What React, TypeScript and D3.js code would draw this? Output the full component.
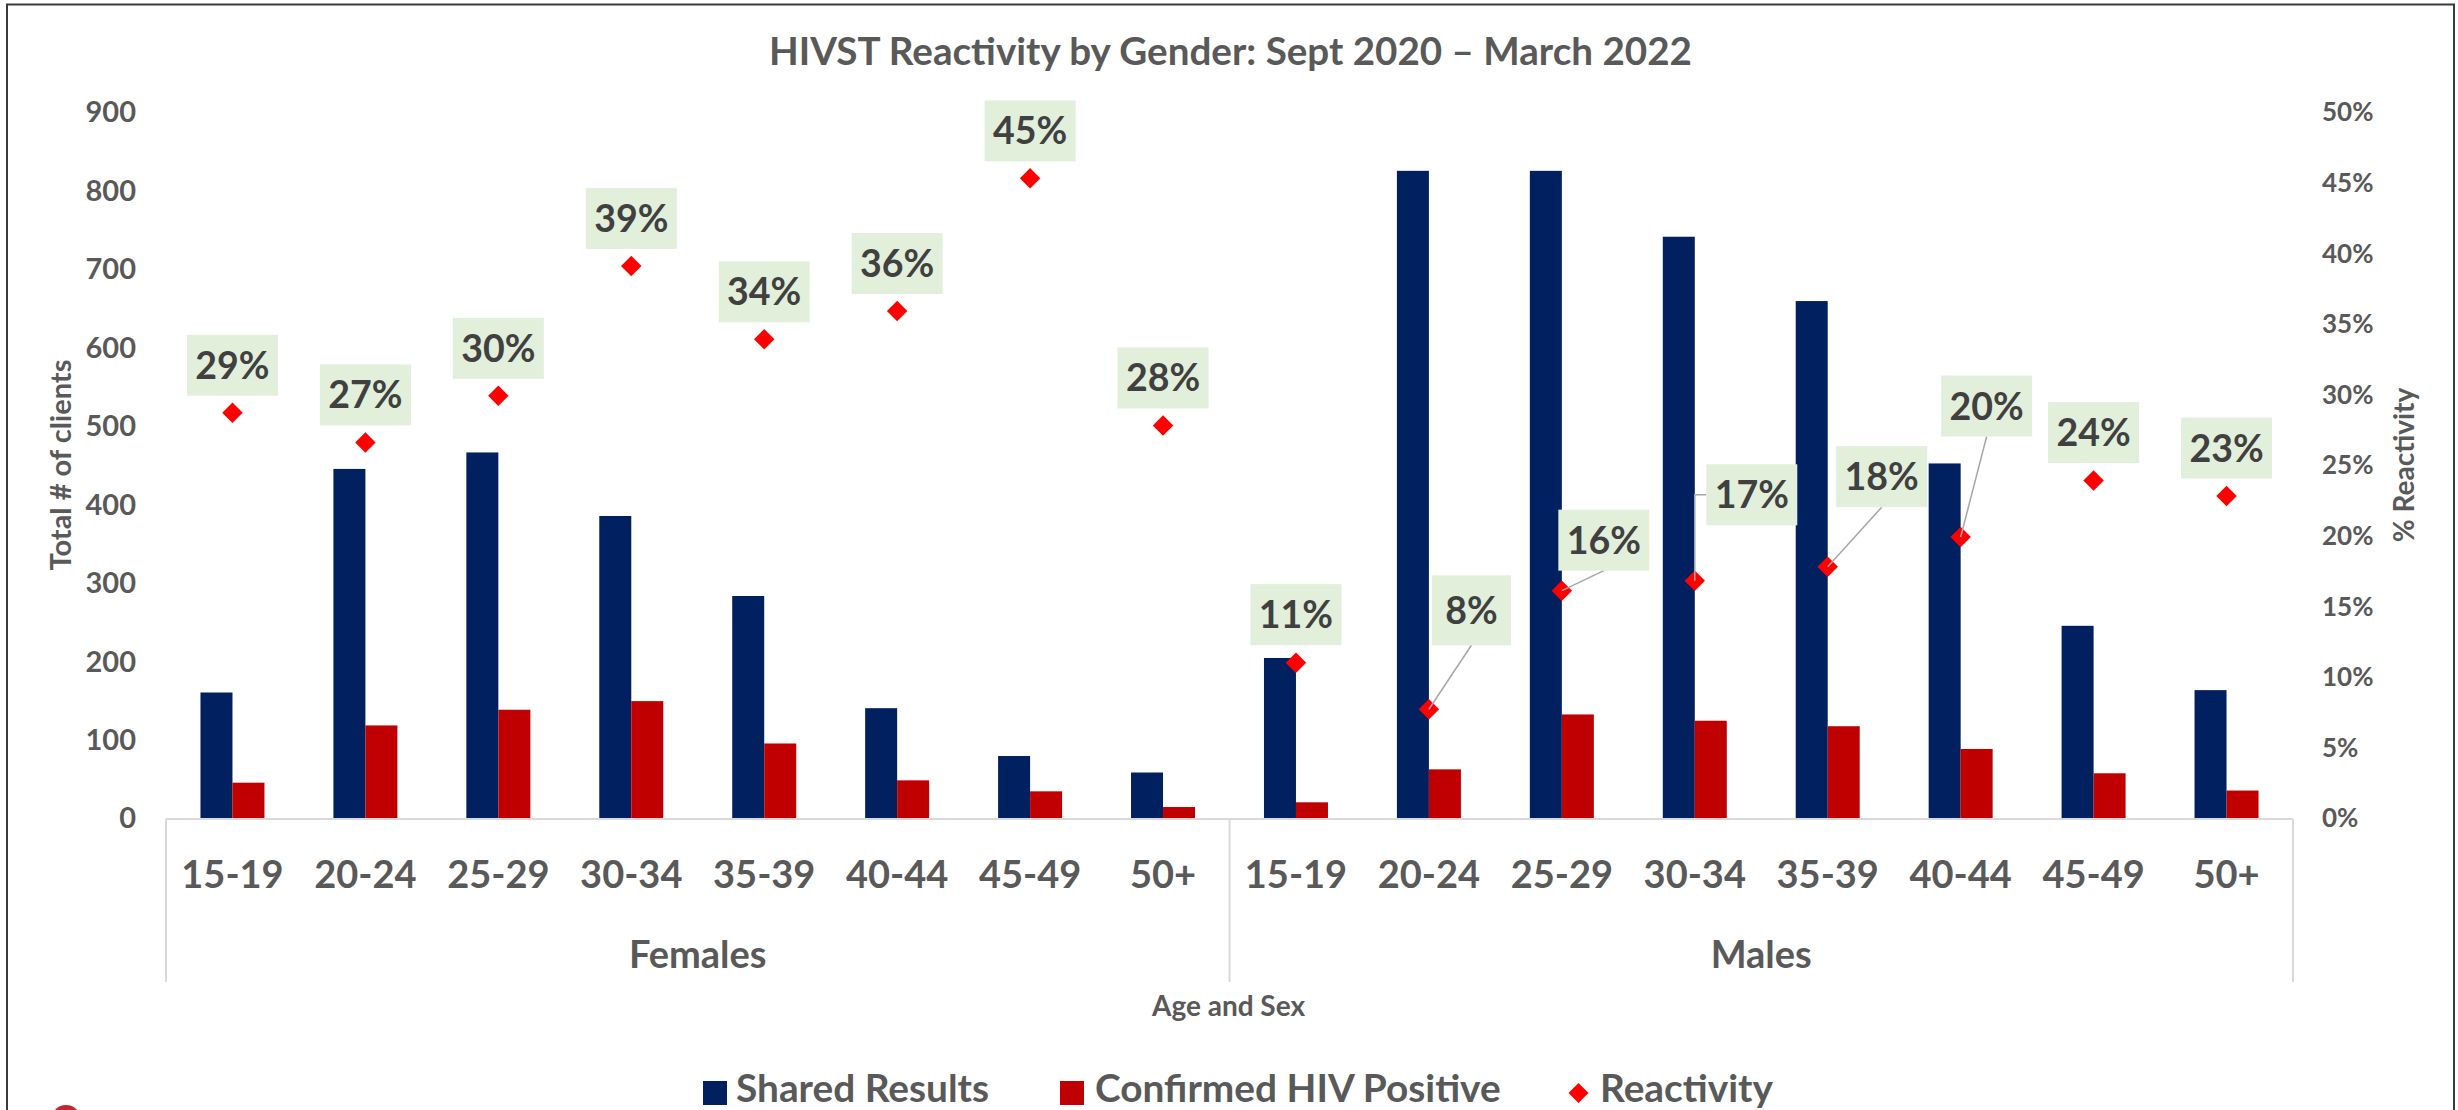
import React from "react";
import * as d3 from "d3";

// ---------- data ----------
const groups = ["Females", "Males"];
const ageBands = ["15-19", "20-24", "25-29", "30-34", "35-39", "40-44", "45-49", "50+"];
const sharedResults = [160, 445, 466, 385, 283, 140, 79, 58, 204, 825, 825, 741, 659, 452, 245, 163];
const confirmedPositive = [45, 118, 138, 149, 95, 48, 34, 14, 20, 62, 132, 124, 117, 88, 57, 35];
const reactivity = [28.7, 26.6, 29.9, 39.1, 33.9, 35.9, 45.3, 27.8, 11.0, 7.7, 16.1, 16.8, 17.8, 19.9, 23.9, 22.8];
const leftTicks = [0, 100, 200, 300, 400, 500, 600, 700, 800, 900];
const rightTicks = [0, 5, 10, 15, 20, 25, 30, 35, 40, 45, 50];
const seriesNames = ["Shared Results", "Confirmed HIV Positive", "Reactivity"];

// label placement (layout, px): [dx, dy, leader] relative to diamond
const labelLayout: [number, number, string][] = [
  [0, -47.5, ""], [0, -47.5, ""], [0, -47.5, ""], [0, -47.5, ""],
  [0, -47.5, ""], [0, -47.5, ""], [0, -47.5, ""], [0, -47.5, ""],
  [0, -48, ""], [42.5, -99, "line"], [42, -50.5, "line"], [57, -86, "elbow"],
  [54, -90, "line"], [26, -131, "line"], [0, -48, ""], [0, -48, ""],
];

const W = 2458;
const H = 1110;
const FONT = "Lato, 'Open Sans', sans-serif";
const GRAY = "#595959";
const BLUE = "#002060";
const RED = "#C00000";
const DIAMOND = "#FF0000";

export default function App() {
  const plotL = 166, plotR = 2293, plotT = 112, plotB = 818;
  const cats = d3.range(groups.length * ageBands.length);
  const x = d3.scaleBand<number>().domain(cats).range([plotL, plotR]).padding(0);
  const yL = d3.scaleLinear().domain([0, 900]).range([plotB, plotT]);
  const yR = d3.scaleLinear().domain([0, 50]).range([plotB, plotT]);
  const barW = 32;
  const cx = (i: number) => (x(i) as number) + x.bandwidth() / 2;
  const diamond = d3.symbol().type(d3.symbolSquare).size(210)();
  const legendDiamond = d3.symbol().type(d3.symbolSquare).size(200)();
  const sepY = 982;
  const groupW = x.bandwidth() * ageBands.length;

  return (
    <svg width={W} height={H} style={{ position: "absolute", left: 0, top: 0, overflow: "hidden" }}
      fontFamily={FONT} fontWeight={700}>
      <rect x={0} y={0} width={W} height={H} fill="#fff" />
      <rect x={7} y={4.5} width={2447} height={1130} fill="none" stroke="#3a3a3a" strokeWidth={2} />

      {/* title */}
      <text x={1230.5} y={65} textAnchor="middle" fontSize={38.6} fill={GRAY}>
        HIVST Reactivity by Gender: Sept 2020 – March 2022
      </text>

      {/* left axis ticks */}
      {leftTicks.map((t) => (
        <text key={"l" + t} x={136} y={yL(t)} dy="0.36em" textAnchor="end" fontSize={29} fill={GRAY}>{t}</text>
      ))}
      {/* right axis ticks */}
      {rightTicks.map((t) => (
        <text key={"r" + t} x={2322} y={yR(t)} dy="0.36em" textAnchor="start" fontSize={26} fill={GRAY}>{t + "%"}</text>
      ))}

      {/* axis titles */}
      <text transform={`translate(71,${(plotT + plotB) / 2}) rotate(-90)`} textAnchor="middle" fontSize={29} fill={GRAY}>
        Total # of clients
      </text>
      <text transform={`translate(2414,${(plotT + plotB) / 2}) rotate(-90)`} textAnchor="middle" fontSize={28} fill={GRAY}>
        % Reactivity
      </text>

      {/* bars */}
      {cats.map((i) => (
        <g key={"b" + i}>
          <rect x={cx(i) - barW} y={yL(sharedResults[i])} width={barW} height={plotB - yL(sharedResults[i])} fill={BLUE} />
          <rect x={cx(i)} y={yL(confirmedPositive[i])} width={barW} height={plotB - yL(confirmedPositive[i])} fill={RED} />
        </g>
      ))}

      {/* category axis */}
      <line x1={plotL} x2={plotR} y1={plotB + 1} y2={plotB + 1} stroke="#D9D9D9" strokeWidth={2} />
      {d3.range(groups.length + 1).map((g) => (
        <line key={"s" + g} x1={plotL + g * groupW} x2={plotL + g * groupW} y1={plotB + 1} y2={sepY} stroke="#D9D9D9" strokeWidth={2} />
      ))}
      {cats.map((i) => (
        <text key={"c" + i} x={cx(i)} y={888} textAnchor="middle" fontSize={38} fill={GRAY}>
          {ageBands[i % ageBands.length]}
        </text>
      ))}
      {groups.map((g, gi) => (
        <text key={g} x={plotL + gi * groupW + groupW / 2} y={968} textAnchor="middle" fontSize={38} fill={GRAY}>{g}</text>
      ))}
      <text x={1228.5} y={1016} textAnchor="middle" fontSize={28} fill={GRAY}>Age and Sex</text>

      {/* reactivity diamonds */}
      {cats.map((i) => (
        <path key={"d" + i} d={diamond as string} transform={`translate(${cx(i)},${yR(reactivity[i])}) rotate(45)`} fill={DIAMOND} />
      ))}

      {/* leader lines */}
      {cats.map((i) => {
        const [dx, dy, kind] = labelLayout[i];
        const px = cx(i), py = yR(reactivity[i]);
        const bh = Math.round(reactivity[i]) < 10 ? 70 : 61;
        const bw = Math.round(reactivity[i]) < 10 ? 79 : 91;
        if (kind === "line") {
          return <line key={"ll" + i} x1={px + dx} y1={py + dy + bh / 2} x2={px} y2={py} stroke="#A6A6A6" strokeWidth={1.5} />;
        }
        if (kind === "elbow") {
          return <polyline key={"ll" + i} points={`${px + dx - bw / 2},${py + dy} ${px},${py + dy} ${px},${py}`} fill="none" stroke="#A6A6A6" strokeWidth={1.5} />;
        }
        return null;
      })}

      {/* data labels */}
      {cats.map((i) => {
        const [dx, dy] = labelLayout[i];
        const label = Math.round(reactivity[i]) + "%";
        const bw = label.length < 3 ? 79 : 91;
        const bh = label.length < 3 ? 70 : 61;
        const bx = cx(i) + dx, by = yR(reactivity[i]) + dy;
        return (
          <g key={"t" + i}>
            <rect x={bx - bw / 2} y={by - bh / 2} width={bw} height={bh} fill="#E2EFDA" />
            <text x={bx} y={by} dy="0.36em" textAnchor="middle" fontSize={37.5} fill="#404040">{label}</text>
          </g>
        );
      })}

      {/* legend */}
      <rect x={703} y={1081} width={24} height={24} fill={BLUE} />
      <text x={736} y={1102} fontSize={38.8} fill={GRAY}>{seriesNames[0]}</text>
      <rect x={1060} y={1081} width={24} height={24} fill={RED} />
      <text x={1095} y={1102} fontSize={38.8} fill={GRAY}>{seriesNames[1]}</text>
      <path d={legendDiamond as string} transform="translate(1578.5,1093) rotate(45)" fill={DIAMOND} />
      <text x={1600} y={1102} fontSize={38.8} fill={GRAY}>{seriesNames[2]}</text>

      {/* partial logo circle at bottom-left */}
      <circle cx={66} cy={1120} r={15} fill="#C0282D" />
    </svg>
  );
}
